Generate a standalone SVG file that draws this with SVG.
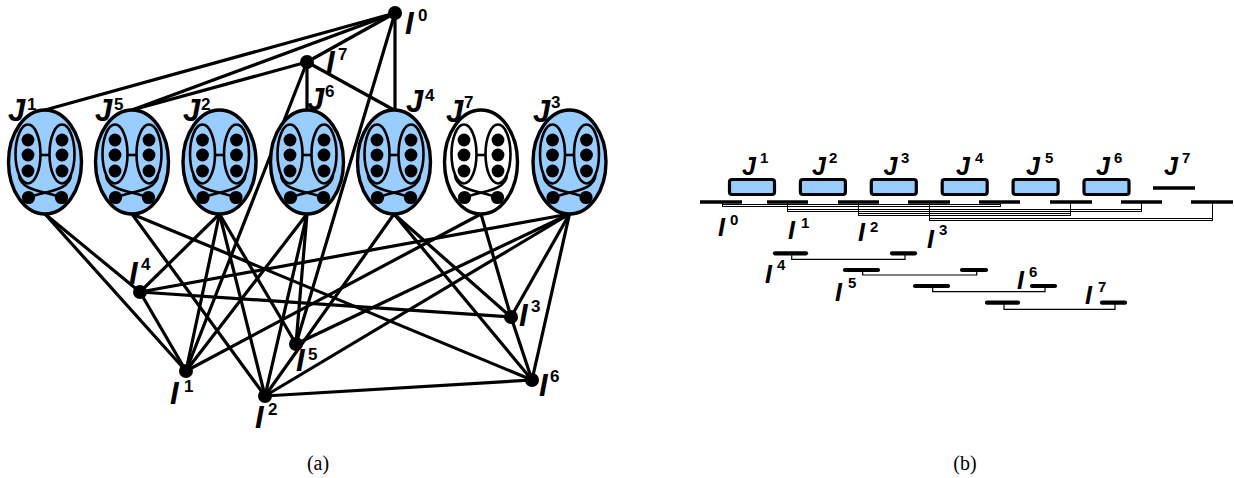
<svg xmlns="http://www.w3.org/2000/svg" xmlns:xlink="http://www.w3.org/1999/xlink" width="1234" height="478" viewBox="0 0 1234 478">
  <style>
    .edge { stroke:#000; stroke-width:3.2; stroke-linecap:round; fill:none; }
    .job { fill:#99CCFF; stroke:#000; stroke-width:3.4; }
    .job.idle { fill:#fff; }
    .inner { fill:none; stroke:#000; stroke-width:2.6; }
    .dot { fill:#000; }
    .lbl { font-family:"Liberation Sans", Arial, sans-serif; font-weight:bold; font-style:italic; font-size:31px; fill:#000; }
    .lblb { font-family:"Liberation Sans", Arial, sans-serif; font-weight:bold; font-style:italic; font-size:25px; fill:#000; }
    .sup { font-style:normal; font-size:17px; }
    .supb { font-style:normal; font-size:15px; }
    .cap { font-family:"Liberation Serif", "Times New Roman", serif; font-size:20px; fill:#000; }
    .box { fill:#99CCFF; stroke:#000; stroke-width:3.2; }
    .seg { stroke:#000; stroke-width:3.4; fill:none; }
    .segr { stroke:#000; stroke-width:4.2; stroke-linecap:round; fill:none; }
    .thin { stroke:#000; stroke-width:1.2; fill:none; }
    .band { stroke:#000; stroke-width:1; fill:none; shape-rendering:crispEdges; }
  </style>
  <defs>
    <!-- internal structure of a job ellipse, centred on (0,0) -->
    <g id="jobCore">
      <ellipse class="inner" cx="-17" cy="-8" rx="12.5" ry="29.5"/>
      <ellipse class="inner" cx="17" cy="-8" rx="12.5" ry="29.5"/>
      <line class="inner" x1="-5" y1="-7" x2="5" y2="-7"/>
      <path class="inner" d="M-26,13 C-25,29 0,29 16.5,35.5"/>
      <path class="inner" d="M26,13 C25,29 0,29 -16.5,35.5"/>
      <circle class="dot" cx="-17" cy="-22" r="6.4"/>
      <circle class="dot" cx="-17" cy="-7" r="6.4"/>
      <circle class="dot" cx="-17" cy="9" r="6.4"/>
      <circle class="dot" cx="17" cy="-22" r="6.4"/>
      <circle class="dot" cx="17" cy="-7" r="6.4"/>
      <circle class="dot" cx="17" cy="9" r="6.4"/>
      <circle class="dot" cx="-16.5" cy="35.5" r="6.6"/>
      <circle class="dot" cx="16.5" cy="35.5" r="6.6"/>
    </g>
  </defs>

  <rect width="1234" height="478" fill="#fff"/>

  <!-- (a) conflict graph: connectors -->
  <g id="edges">
    <line class="edge" x1="45" y1="110" x2="395" y2="13"/>
    <line class="edge" x1="132" y1="110" x2="395" y2="13"/>
    <line class="edge" x1="132" y1="110" x2="307" y2="62"/>
    <line class="edge" x1="307" y1="62" x2="395" y2="13"/>
    <line class="edge" x1="307" y1="62" x2="307" y2="110"/>
    <line class="edge" x1="307" y1="62" x2="394" y2="110"/>
    <line class="edge" x1="395" y1="13" x2="395" y2="110"/>
    <line class="edge" x1="395" y1="13" x2="296" y2="344"/>
    <line class="edge" x1="307" y1="62" x2="186" y2="371"/>

    <line class="edge" x1="45" y1="214" x2="140" y2="292"/>
    <line class="edge" x1="45" y1="214" x2="186" y2="371"/>
    <line class="edge" x1="132" y1="214" x2="265" y2="396"/>
    <line class="edge" x1="132" y1="214" x2="532" y2="380"/>
    <line class="edge" x1="219.5" y1="214" x2="140" y2="292"/>
    <line class="edge" x1="219.5" y1="214" x2="186" y2="371"/>
    <line class="edge" x1="219.5" y1="214" x2="265" y2="396"/>
    <line class="edge" x1="219.5" y1="214" x2="296" y2="344"/>
    <line class="edge" x1="307" y1="214" x2="186" y2="371"/>
    <line class="edge" x1="307" y1="214" x2="265" y2="396"/>
    <line class="edge" x1="307" y1="214" x2="296" y2="344"/>
    <line class="edge" x1="394" y1="214" x2="265" y2="396"/>
    <line class="edge" x1="394" y1="214" x2="511" y2="317"/>
    <line class="edge" x1="394" y1="214" x2="532" y2="380"/>
    <line class="edge" x1="481" y1="214" x2="186" y2="371"/>
    <line class="edge" x1="481" y1="214" x2="511" y2="317"/>
    <line class="edge" x1="569.5" y1="214" x2="140" y2="292"/>
    <line class="edge" x1="569.5" y1="214" x2="296" y2="344"/>
    <line class="edge" x1="569.5" y1="214" x2="265" y2="396"/>
    <line class="edge" x1="569.5" y1="214" x2="511" y2="317"/>
    <line class="edge" x1="569.5" y1="214" x2="532" y2="380"/>
    <line class="edge" x1="140" y1="292" x2="186" y2="371"/>
    <line class="edge" x1="140" y1="292" x2="511" y2="317"/>
    <line class="edge" x1="265" y1="396" x2="532" y2="380"/>
    <line class="edge" x1="511" y1="317" x2="532" y2="380"/>
  </g>

  <!-- (a) job nodes -->
  <g id="J1" transform="translate(45,162)">
    <ellipse class="job" rx="36.5" ry="52"/>
    <use xlink:href="#jobCore" href="#jobCore"/>
    <text class="lbl" x="-37" y="-41">J<tspan class="sup" x="-18" y="-52">1</tspan></text>
  </g>
  <g id="J5" transform="translate(132,162)">
    <ellipse class="job" rx="36.5" ry="52"/>
    <use xlink:href="#jobCore" href="#jobCore"/>
    <text class="lbl" x="-37" y="-41">J<tspan class="sup" x="-18" y="-52">5</tspan></text>
  </g>
  <g id="J2" transform="translate(219.5,162)">
    <ellipse class="job" rx="36.5" ry="52"/>
    <use xlink:href="#jobCore" href="#jobCore"/>
    <text class="lbl" x="-36.5" y="-41">J<tspan class="sup" x="-18.5" y="-52">2</tspan></text>
  </g>
  <g id="J6" transform="translate(307,162)">
    <ellipse class="job" rx="36.5" ry="52"/>
    <use xlink:href="#jobCore" href="#jobCore"/>
    <text class="lbl" x="0" y="-52">J<tspan class="sup" x="18" y="-65">6</tspan></text>
  </g>
  <g id="J4" transform="translate(394,162)">
    <ellipse class="job" rx="36.5" ry="52"/>
    <use xlink:href="#jobCore" href="#jobCore"/>
    <text class="lbl" x="12" y="-50">J<tspan class="sup" x="31" y="-61">4</tspan></text>
  </g>
  <g id="J7" transform="translate(481,162)">
    <ellipse class="job idle" rx="36.5" ry="52"/>
    <use xlink:href="#jobCore" href="#jobCore"/>
    <text class="lbl" x="-35" y="-40">J<tspan class="sup" x="-17" y="-54">7</tspan></text>
  </g>
  <g id="J3" transform="translate(569.5,162)">
    <ellipse class="job" rx="36.5" ry="52"/>
    <use xlink:href="#jobCore" href="#jobCore"/>
    <text class="lbl" x="-36.5" y="-40">J<tspan class="sup" x="-18.5" y="-54">3</tspan></text>
  </g>

  <!-- (a) interval nodes -->
  <g id="I0">
    <circle class="dot" cx="395" cy="13" r="7"/>
    <text class="lbl" x="405" y="34">I<tspan class="sup" x="418" y="21">0</tspan></text>
  </g>
  <g id="I7">
    <circle class="dot" cx="307" cy="62" r="7"/>
    <text class="lbl" x="326" y="73">I<tspan class="sup" x="338" y="60">7</tspan></text>
  </g>
  <g id="I4">
    <circle class="dot" cx="140" cy="292" r="7"/>
    <text class="lbl" x="129" y="284">I<tspan class="sup" x="141" y="270">4</tspan></text>
  </g>
  <g id="I1">
    <circle class="dot" cx="186" cy="371" r="7"/>
    <text class="lbl" x="170" y="404">I<tspan class="sup" x="184" y="392">1</tspan></text>
  </g>
  <g id="I2">
    <circle class="dot" cx="265" cy="396" r="7"/>
    <text class="lbl" x="255" y="428">I<tspan class="sup" x="268" y="415">2</tspan></text>
  </g>
  <g id="I5">
    <circle class="dot" cx="296" cy="344" r="7"/>
    <text class="lbl" x="296" y="371">I<tspan class="sup" x="308" y="360">5</tspan></text>
  </g>
  <g id="I3">
    <circle class="dot" cx="511" cy="317" r="7"/>
    <text class="lbl" x="519" y="326">I<tspan class="sup" x="531" y="312">3</tspan></text>
  </g>
  <g id="I6">
    <circle class="dot" cx="532" cy="380" r="7"/>
    <text class="lbl" x="539" y="396">I<tspan class="sup" x="550" y="382">6</tspan></text>
  </g>

  <text class="cap" x="318" y="470" text-anchor="middle">(a)</text>

  <!-- (b) schedule view -->
  <g id="timeline">
    <line class="seg" x1="700" y1="202" x2="742" y2="202"/>
    <line class="seg" x1="767" y1="202" x2="808" y2="202"/>
    <line class="seg" x1="838" y1="202" x2="879" y2="202"/>
    <line class="seg" x1="908" y1="202" x2="950" y2="202"/>
    <line class="seg" x1="979" y1="202" x2="1020" y2="202"/>
    <line class="seg" x1="1050" y1="202" x2="1092" y2="202"/>
    <line class="seg" x1="1121" y1="202" x2="1162" y2="202"/>
    <line class="seg" x1="1191" y1="202" x2="1233" y2="202"/>
  </g>

  <g id="bJ1">
    <rect class="box" x="729.5" y="179.5" width="45" height="15" rx="2.5"/>
    <text class="lblb" x="742" y="175">J<tspan class="supb" x="760" y="163">1</tspan></text>
  </g>
  <g id="bJ2">
    <rect class="box" x="800.4" y="179.5" width="45" height="15" rx="2.5"/>
    <text class="lblb" x="812" y="175">J<tspan class="supb" x="829" y="163">2</tspan></text>
  </g>
  <g id="bJ3">
    <rect class="box" x="871.3" y="179.5" width="45" height="15" rx="2.5"/>
    <text class="lblb" x="883.5" y="175">J<tspan class="supb" x="901" y="163">3</tspan></text>
  </g>
  <g id="bJ4">
    <rect class="box" x="942.2" y="179.5" width="45" height="15" rx="2.5"/>
    <text class="lblb" x="956" y="175">J<tspan class="supb" x="975" y="163">4</tspan></text>
  </g>
  <g id="bJ5">
    <rect class="box" x="1013.1" y="179.5" width="45" height="15" rx="2.5"/>
    <text class="lblb" x="1026" y="175">J<tspan class="supb" x="1045" y="163">5</tspan></text>
  </g>
  <g id="bJ6">
    <rect class="box" x="1084" y="179.5" width="45" height="15" rx="2.5"/>
    <text class="lblb" x="1096" y="175">J<tspan class="supb" x="1114" y="163">6</tspan></text>
  </g>
  <g id="bJ7">
    <line class="seg" x1="1153" y1="188" x2="1195" y2="188"/>
    <text class="lblb" x="1164" y="175">J<tspan class="supb" x="1182" y="163">7</tspan></text>
  </g>

  <!-- (b) intervals: brackets below the time line -->
  <g id="bI0">
    <path class="band" d="M722.5,203 V206.5 M1000.5,203 V206.5"/>
    <rect class="band" x="722.5" y="204.5" width="278" height="2"/>
    <text class="lblb" x="718" y="236">I<tspan class="supb" x="730" y="225">0</tspan></text>
  </g>
  <g id="bI1">
    <path class="band" d="M787.5,203 V211.5 M1141.5,203 V211.5"/>
    <rect class="band" x="787.5" y="209.5" width="354" height="2"/>
    <text class="lblb" x="788" y="239">I<tspan class="supb" x="801" y="228">1</tspan></text>
  </g>
  <g id="bI2">
    <path class="band" d="M858.5,203 V215.5 M1070.5,203 V215.5"/>
    <rect class="band" x="858.5" y="213.5" width="212" height="2"/>
    <text class="lblb" x="858" y="241">I<tspan class="supb" x="870" y="232">2</tspan></text>
  </g>
  <g id="bI3">
    <path class="band" d="M929.5,203 V220.5 M1212.5,203 V220.5"/>
    <rect class="band" x="929.5" y="218.5" width="283" height="2"/>
    <text class="lblb" x="927" y="248">I<tspan class="supb" x="939" y="235">3</tspan></text>
  </g>

  <g id="bI4">
    <line class="segr" x1="775" y1="253.3" x2="806" y2="253.3"/>
    <line class="segr" x1="892" y1="253.3" x2="915" y2="253.3"/>
    <path class="thin" d="M791.7,253.3 V259.3 H905 V253.3"/>
    <text class="lblb" x="765" y="283">I<tspan class="supb" x="777" y="270">4</tspan></text>
  </g>
  <g id="bI5">
    <line class="segr" x1="845" y1="270" x2="878" y2="270"/>
    <line class="segr" x1="962" y1="270" x2="986" y2="270"/>
    <path class="thin" d="M862.7,270 V275 H976.7 V270"/>
    <text class="lblb" x="835" y="301">I<tspan class="supb" x="848" y="288">5</tspan></text>
  </g>
  <g id="bI6">
    <line class="segr" x1="915" y1="286" x2="948" y2="286"/>
    <line class="segr" x1="1032" y1="286" x2="1055" y2="286"/>
    <path class="thin" d="M932.7,286 V291.7 H1045 V286"/>
    <text class="lblb" x="1017" y="289">I<tspan class="supb" x="1029" y="277">6</tspan></text>
  </g>
  <g id="bI7">
    <line class="segr" x1="987" y1="302.7" x2="1018" y2="302.7"/>
    <line class="segr" x1="1102" y1="302.7" x2="1125" y2="302.7"/>
    <path class="thin" d="M1004,302.7 V309.3 H1115 V302.7"/>
    <text class="lblb" x="1085" y="304">I<tspan class="supb" x="1098" y="292">7</tspan></text>
  </g>

  <text class="cap" x="965" y="470" text-anchor="middle">(b)</text>
</svg>
